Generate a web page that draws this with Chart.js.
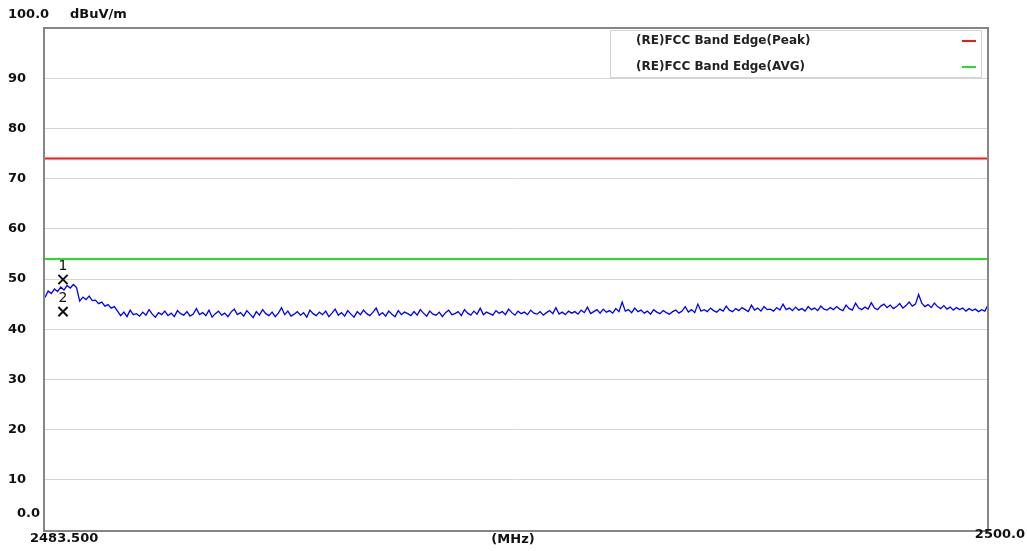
<!DOCTYPE html>
<html lang="en">
  <head>
    <meta charset="UTF-8" />
    <title>Band Edge</title>
    <script src="https://cdn.jsdelivr.net/npm/chart.js"></script>
    <style>
      html, body { margin: 0; padding: 0; background: #fff; }
      #wrap { width: 1027px; height: 551px; position: relative; }
    </style>
  </head>
  <body>
    <div id="wrap"><canvas id="bandChart"></canvas></div>

    <script>
      // sweep
      const freqStart = 2483.5;
      const freqStop = 2500.0;
      const yTicks = [0, 10, 20, 30, 40, 50, 60, 70, 80, 90, 100];

      // limit lines
      const limitNames = ["(RE)FCC Band Edge(Peak)", "(RE)FCC Band Edge(AVG)"];
      const limitLevels = [74, 54];

      // markers
      const markerNames = ["1", "2"];
      const markerFreq = [2483.815, 2483.815];
      const markerLevel = [49.9, 43.5];

      // measured trace, dBuV/m
      const traceLevel = [
        46.3, 47.6, 47.1, 48.0, 47.5, 48.4, 47.8, 48.7, 48.2, 48.9,
        48.3, 45.6, 46.4, 45.9, 46.6, 45.7, 45.8, 45.1, 45.4, 44.6,
        44.9, 44.2, 44.5, 43.6, 42.7, 43.4, 42.5, 43.8, 42.9, 43.1,
        42.6, 43.4, 42.8, 43.9, 43.0, 42.4, 43.3, 42.9, 43.6, 42.7,
        43.2, 42.5, 43.7, 43.1, 42.8, 43.5, 42.6, 43.0, 44.1, 42.9,
        43.3, 42.7, 43.8, 42.4, 43.1, 43.6, 42.8, 43.2, 42.5, 43.4,
        44.0, 42.9, 43.3, 42.6, 43.7, 43.0, 42.3, 43.5, 42.8, 43.9,
        43.1, 42.7, 43.4, 42.5, 43.2, 44.3, 42.9, 43.6, 42.6, 43.0,
        43.5, 42.8, 43.3, 42.4, 43.8, 43.1, 42.7, 43.4, 42.9, 43.6,
        42.5, 43.2, 44.0, 42.8, 43.3, 42.6, 43.7, 43.0, 42.4, 43.5,
        42.9, 43.8, 43.1, 42.7, 43.4, 44.2, 42.8, 43.3, 42.6, 43.6,
        43.0, 42.5, 43.7, 42.9, 43.4, 43.1, 42.7, 43.5, 42.8, 43.9,
        43.2, 42.6, 43.6, 43.0, 42.8, 43.4, 42.5, 43.3, 43.8, 42.9,
        43.1, 43.5, 42.7, 43.9, 43.2, 42.8, 43.6, 43.0, 44.2, 42.9,
        43.4, 43.1, 42.8, 43.7, 43.2, 43.5, 42.9, 44.0, 43.3, 42.8,
        43.6, 43.1, 43.4, 42.9, 43.8, 43.2, 43.0, 43.5, 42.8, 43.3,
        43.7, 43.1, 44.3, 43.0, 43.4, 42.9, 43.6, 43.2, 43.5, 43.0,
        43.8, 43.3, 44.4, 43.1, 43.5, 43.9, 43.2, 44.0, 43.4, 43.7,
        43.2, 44.1, 43.5, 45.4, 43.6, 43.9, 43.3, 44.2, 43.5, 43.8,
        43.2, 43.6, 43.0, 43.9, 43.4, 43.1, 43.7, 43.3, 43.0, 43.5,
        43.8, 43.2, 43.6, 44.5, 43.4, 43.9, 43.3, 45.0, 43.6, 43.9,
        43.5, 44.2, 43.7, 43.4, 44.0, 43.6, 44.6, 43.8, 43.5, 44.1,
        43.7, 44.3, 43.9, 43.5, 44.8, 43.8, 44.2, 43.6, 44.5, 43.9,
        44.0, 43.6, 44.3, 43.8, 45.0, 43.9, 44.2, 43.7, 44.4, 43.8,
        44.1, 43.6, 44.5, 43.9, 44.2, 43.7, 44.6, 44.0, 43.8, 44.3,
        43.9, 44.5, 44.0, 43.7, 44.8, 44.1, 43.8, 45.2, 44.2, 43.9,
        44.4, 44.0, 45.3, 44.2, 43.9, 44.6, 45.0, 44.3, 44.8, 44.1,
        44.5, 45.1, 44.2, 44.7, 45.4, 44.6, 45.0, 46.9, 45.2, 44.5,
        44.9, 44.3, 45.2, 44.5, 44.1, 44.7, 44.0, 44.4, 43.8, 44.3,
        43.9, 44.2, 43.6, 44.1, 43.7, 44.0, 43.5, 43.9, 43.6, 44.8,
      ];

      const step = (freqStop - freqStart) / (traceLevel.length - 1);
      const tracePoints = traceLevel.map((v, i) => ({ x: freqStart + i * step, y: v }));

      const limitColors = ["#ff1414", "#22e022"];
      const FONT = "DejaVu Sans";

      // frame, legend box, axis texts, marker numbers
      const decorPlugin = {
        id: "decor",
        afterDraw(chart) {
          const { ctx, chartArea } = chart;
          const { left, right, top, bottom } = chartArea;
          ctx.save();

          // plot frame
          ctx.strokeStyle = "#858585";
          ctx.lineWidth = 2;
          ctx.strokeRect(left - 1, top, right - left + 1, bottom - top + 1);

          // legend
          ctx.fillStyle = "#fff";
          ctx.fillRect(610, 30, 372, 47);
          ctx.strokeStyle = "#d4d4d4";
          ctx.lineWidth = 1;
          ctx.strokeRect(610.5, 30.5, 371, 47);
          ctx.font = "bold 12px " + FONT;
          ctx.textBaseline = "middle";
          ctx.textAlign = "left";
          limitNames.forEach((name, i) => {
            const y = 41 + i * 26;
            ctx.fillStyle = "#222";
            ctx.fillText(name, 636, y);
            ctx.strokeStyle = limitColors[i];
            ctx.lineWidth = 2;
            ctx.beginPath();
            ctx.moveTo(962, y);
            ctx.lineTo(976, y);
            ctx.stroke();
          });

          // axis texts
          ctx.fillStyle = "#111";
          ctx.font = "bold 13px " + FONT;
          ctx.textAlign = "left";
          ctx.fillText("100.0", 8, 15);
          ctx.fillText("dBuV/m", 70, 15);
          ctx.textAlign = "right";
          ctx.fillText("0.0", 40, 514);
          ctx.textAlign = "left";
          ctx.fillText("2483.500", 30, 539);
          ctx.textAlign = "center";
          ctx.fillText("(MHz)", 513, 540);
          ctx.textAlign = "right";
          ctx.fillText("2500.0", 1025, 535);

          // marker numbers
          const meta = chart.getDatasetMeta(3);
          ctx.font = "14px " + FONT;
          ctx.textAlign = "center";
          ctx.fillStyle = "#111";
          meta.data.forEach((pt, i) => {
            ctx.fillText(markerNames[i], pt.x, pt.y - 13);
          });
          ctx.restore();
        },
      };

      const ctx = document.getElementById("bandChart").getContext("2d");
      new Chart(ctx, {
        type: "line",
        data: {
          datasets: [
            {
              label: limitNames[0],
              data: [
                { x: freqStart, y: limitLevels[0] },
                { x: freqStop, y: limitLevels[0] },
              ],
              borderColor: limitColors[0],
              borderWidth: 2,
              pointRadius: 0,
            },
            {
              label: limitNames[1],
              data: [
                { x: freqStart, y: limitLevels[1] },
                { x: freqStop, y: limitLevels[1] },
              ],
              borderColor: limitColors[1],
              borderWidth: 2,
              pointRadius: 0,
            },
            {
              label: "trace",
              data: tracePoints,
              borderColor: "#0000ff",
              borderWidth: 1.3,
              pointRadius: 0,
              tension: 0,
            },
            {
              label: "markers",
              type: "scatter",
              data: markerFreq.map((f, i) => ({ x: f, y: markerLevel[i] })),
              pointStyle: "crossRot",
              pointRadius: 6.5,
              borderColor: "#111",
              borderWidth: 2,
              showLine: false,
            },
          ],
        },
        options: {
          responsive: true,
          maintainAspectRatio: false,
          animation: false,
          layout: { padding: { top: 28, right: 39, bottom: 21, left: 0 } },
          plugins: {
            legend: { display: false },
            tooltip: { enabled: false },
          },
          scales: {
            x: {
              type: "linear",
              min: freqStart,
              max: freqStop,
              display: false,
            },
            y: {
              min: 0,
              max: 100,
              afterBuildTicks: (scale) => {
                scale.ticks = yTicks.map((v) => ({ value: v }));
              },
              afterFit: (scale) => {
                scale.width = 45;
                scale.paddingTop = 0;
                scale.paddingBottom = 0;
              },
              border: { display: false },
              grid: { color: "#d6d6d6", lineWidth: 1, drawTicks: false },
              ticks: {
                padding: 19,
                color: "#111",
                font: { family: FONT, weight: "bold", size: 13 },
                callback: (v) => (v === 0 || v === 100 ? "" : v),
              },
            },
          },
        },
        plugins: [decorPlugin],
      });
    </script>
  </body>
</html>
